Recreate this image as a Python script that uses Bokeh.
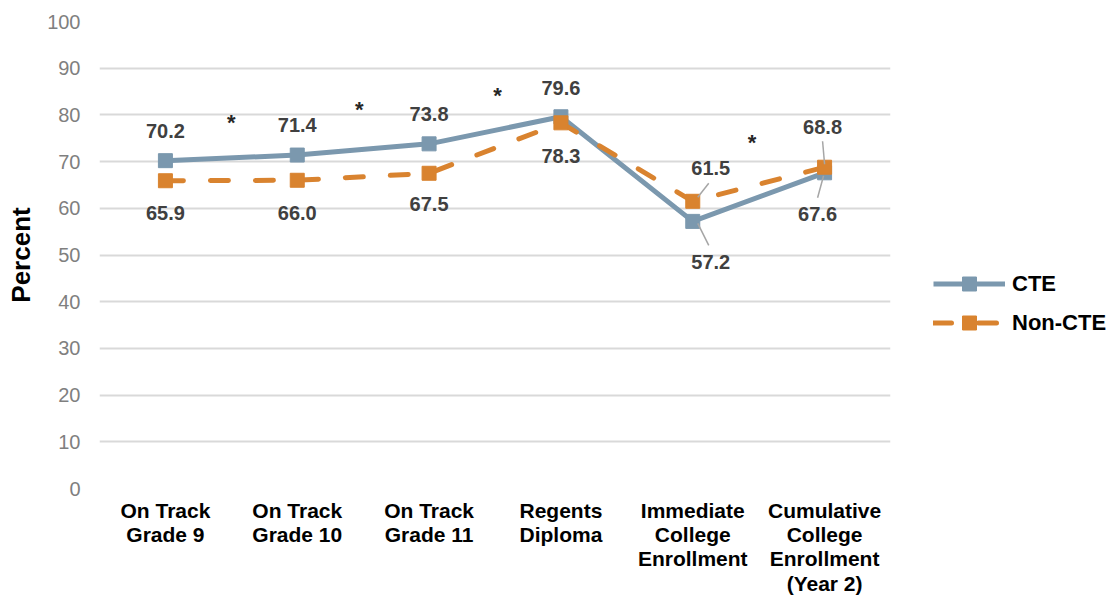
from bokeh.plotting import figure
from bokeh.models import (ColumnDataSource, Range1d, FixedTicker, Legend, LegendItem)
from bokeh.core.properties import value
from bokeh.embed import file_html
from bokeh.resources import INLINE

# ---- data -------------------------------------------------------------
categories = [
    "On Track\nGrade 9",
    "On Track\nGrade 10",
    "On Track\nGrade 11",
    "Regents\nDiploma",
    "Immediate\nCollege\nEnrollment",
    "Cumulative\nCollege\nEnrollment\n(Year 2)",
]
cte = [70.2, 71.4, 73.8, 79.6, 57.2, 67.6]
non_cte = [65.9, 66.0, 67.5, 78.3, 61.5, 68.8]
y_ticks = [0, 10, 20, 30, 40, 50, 60, 70, 80, 90, 100]

# significance markers between adjacent measures (x in category units, y in percent)
sig_x = [0.5, 1.47, 2.52, 4.45]
sig_y = [78.8, 81.6, 84.6, 74.5]

# label placement (pixel offsets from each point)
cte_dx = [0, 0, 0, 0, 18, -7]
cte_dy = [-30, -30, -30, -29, 41, 41]
non_dx = [0, 0, 0, 0, 18, -2]
non_dy = [32, 33, 31, 33, -33, -40]

# ---- styling ----------------------------------------------------------
BLUE = "#7b98ae"
ORANGE = "#d9832f"
FONT = "Liberation Sans"
LEFT, RIGHT, TOP, BOTTOM = 99, 227, 21, 109
FRAME_W, FRAME_H = 791, 467
PX_X = FRAME_W / len(categories)   # pixels per category
PX_Y = FRAME_H / 100.0             # pixels per percent

xs = list(range(len(categories)))

p = figure(frame_width=FRAME_W, frame_height=FRAME_H,
           output_backend="svg", toolbar_location=None,
           x_range=Range1d(-0.5, len(categories) - 0.5), y_range=Range1d(0, 100),
           min_border_left=LEFT, min_border_right=RIGHT,
           min_border_top=TOP, min_border_bottom=BOTTOM)
p.outline_line_color = None
p.background_fill_color = "white"
p.border_fill_color = "white"

# axes
p.xaxis.ticker = FixedTicker(ticks=xs)
p.xaxis.major_label_overrides = {i: c for i, c in zip(xs, categories)}
p.xaxis.axis_line_color = None
p.xaxis.major_tick_line_color = None
p.xaxis.minor_tick_line_color = None
p.xaxis.major_tick_out = 0
p.xaxis.major_label_standoff = 10
p.xaxis.major_label_text_font = FONT
p.xaxis.major_label_text_font_style = "bold"
p.xaxis.major_label_text_font_size = "21px"
p.xaxis.major_label_text_color = "#000000"
p.xaxis.major_label_text_line_height = 1.06

p.yaxis.ticker = FixedTicker(ticks=y_ticks)
p.yaxis.axis_line_color = None
p.yaxis.major_tick_line_color = None
p.yaxis.minor_tick_line_color = None
p.yaxis.major_tick_out = 0
p.yaxis.major_label_standoff = 19
p.yaxis.major_label_text_font = FONT
p.yaxis.major_label_text_font_size = "20px"
p.yaxis.major_label_text_color = "#7f7f7f"
p.yaxis.axis_label = "Percent"
p.yaxis.axis_label_text_font = FONT
p.yaxis.axis_label_text_font_style = "bold"
p.yaxis.axis_label_text_font_size = "26px"
p.yaxis.axis_label_text_color = "#000000"
p.yaxis.axis_label_standoff = 8

p.xgrid.grid_line_color = None
p.ygrid.ticker = FixedTicker(ticks=y_ticks)
p.ygrid.grid_line_color = "#d9d9d9"
p.ygrid.grid_line_width = 2

# series
src = ColumnDataSource(dict(x=xs, cte=cte, non=non_cte,
                            cte_txt=[f"{v:.1f}" for v in cte],
                            non_txt=[f"{v:.1f}" for v in non_cte],
                            cte_dx=cte_dx, cte_dy=cte_dy,
                            non_dx=non_dx, non_dy=non_dy))

cte_line = p.line("x", "cte", source=src, line_color=BLUE, line_width=5,
                  line_join="round")
cte_pts = p.scatter("x", "cte", source=src, marker="square", size=14,
                    fill_color=BLUE, line_color=BLUE)
non_line = p.line("x", "non", source=src, line_color=ORANGE, line_width=5,
                  line_dash="18 27", line_cap="round", line_join="round")
non_pts = p.scatter("x", "non", source=src, marker="square", size=14,
                    fill_color=ORANGE, line_color=ORANGE)

# leader lines for the displaced labels (pixel offsets converted to data units)
lead = [  # (index, value, start px, end px)
    (4, non_cte[4], (5, -4), (16, -18)),
    (4, cte[4], (5, 2), (16, 24)),
    (5, non_cte[5], (0, -3), (-2, -26)),
    (5, cte[5], (-1, 3), (-7, 25)),
]
p.segment(x0=[i + a[0] / PX_X for i, v, a, b in lead],
          y0=[v - a[1] / PX_Y for i, v, a, b in lead],
          x1=[i + b[0] / PX_X for i, v, a, b in lead],
          y1=[v - b[1] / PX_Y for i, v, a, b in lead],
          line_color="#a6a6a6", line_width=1.5)

# value labels
for col, dx, dy in (("cte_txt", "cte_dx", "cte_dy"), ("non_txt", "non_dx", "non_dy")):
    ycol = "cte" if col == "cte_txt" else "non"
    p.text(x="x", y=ycol, text=col, x_offset=dx, y_offset=dy, source=src,
           text_align="center", text_baseline="middle",
           text_font=value(FONT), text_font_style="bold",
           text_font_size="20px", text_color="#404040")

# significance asterisks
p.text(x=sig_x, y=sig_y, text=["*"] * len(sig_x), y_offset=2,
       text_align="center", text_baseline="middle",
       text_font=value(FONT), text_font_style="bold",
       text_font_size="22px", text_color="#262626")

legend = Legend(items=[LegendItem(label="CTE", renderers=[cte_line, cte_pts]),
                       LegendItem(label="Non-CTE", renderers=[non_line, non_pts])],
                location=(43, 148),
                glyph_width=72, glyph_height=35, label_height=35,
                label_standoff=7, spacing=4, padding=0, margin=0,
                border_line_color=None, background_fill_alpha=0,
                label_text_font=FONT, label_text_font_style="bold",
                label_text_font_size="22px", label_text_color="#000000")
p.add_layout(legend, "right")

open("out.html", "w").write(file_html(p, INLINE))
